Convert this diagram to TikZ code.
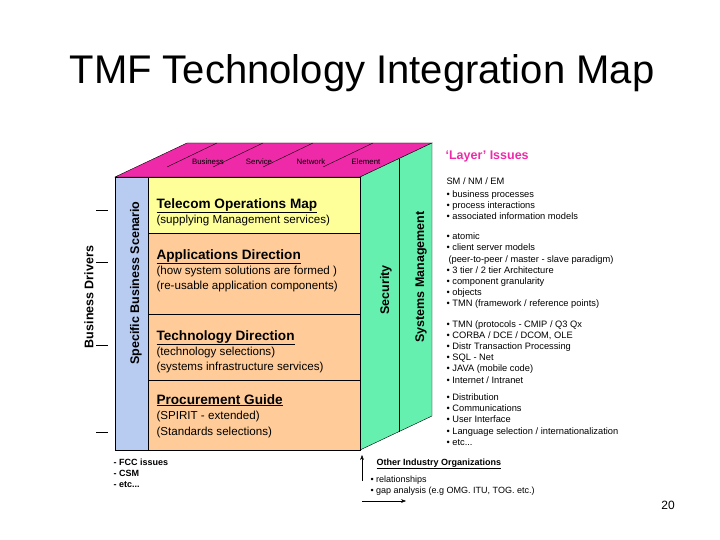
\documentclass[tikz,border=0pt]{standalone}
\usepackage{fontspec}
\setmainfont{Liberation Sans}
\usetikzlibrary{arrows.meta}
\definecolor{mag}{HTML}{EE2AA8}
\definecolor{grn}{HTML}{66F0B0}
\definecolor{blu}{HTML}{B8CCF2}
\definecolor{yel}{HTML}{FFFF99}
\definecolor{ora}{HTML}{FFCC99}
\begin{document}
\begin{tikzpicture}[x=1pt,y=-1pt,
  hd/.style={anchor=base west,font=\fontsize{13.6}{15}\selectfont\bfseries},
  bd/.style={anchor=base west,font=\fontsize{11.6}{13}\selectfont},
  rl/.style={anchor=base west,font=\fontsize{9.3}{11}\selectfont},
  tl/.style={font=\fontsize{7.8}{9}\selectfont},
  vt/.style={rotate=90,font=\fontsize{12.5}{14}\selectfont\bfseries},
  tick/.style={line width=0.6pt}]
\useasboundingbox (0,0) rectangle (720,540);
\node (title) at (362,73) {\fontsize{40}{44}\selectfont TMF Technology Integration Map};
% top face
\draw[fill=mag] (115,177) -- (187,143) -- (432,143) -- (360,177) -- cycle;
\foreach \x in {217,263,313,373} \draw (\x,143) -- (\x-50,167);
\node[tl] (tb) at (208,162) {Business};
\node[tl] (ts) at (259,162) {Service};
\node[tl] (tn) at (311,162) {Network};
\node[tl] (te) at (366,162) {Element};
% right face
\draw[fill=grn] (360,177) -- (432,143) -- (432,416) -- (360,450) -- cycle;
\draw (399,158.6) -- (399,431.6);
% front
\draw[fill=blu] (115,177) rectangle (148,450);
\draw[fill=yel] (148,177) rectangle (360,233);
\draw[fill=ora] (148,233) rectangle (360,450);
\draw (148,314) -- (360,314);
\draw (148,380) -- (360,380);
\node[vt] (sbs) at (136,283) {Specific Business Scenario};
\node[vt] (sec) at (386,290) {Security};
\node[vt] (sm) at (421,277) {Systems Management};
\node[vt] (bdr) at (89,297) {Business Drivers};
\foreach \y in {210,262,345,432} \draw[tick] (96,\y) -- (108,\y);
\node[hd] (h1) at (153,208) {\underline{Telecom Operations Map}};
\node[bd] (b1) at (153,223) {(supplying Management services)};
\node[hd] (h2) at (153,259) {\underline{Applications Direction}};
\node[bd] (b2) at (153,274) {(how system solutions are formed )};
\node[bd] (b3) at (153,289) {(re-usable application components)};
\node[hd] (h3) at (153,340) {\underline{Technology Direction}};
\node[bd] (b4) at (153,355) {(technology selections)};
\node[bd] (b5) at (153,370) {(systems infrastructure services)};
\node[hd] (h4) at (153,404) {\underline{Procurement Guide}};
\node[bd] (b6) at (153,419) {(SPIRIT - extended)};
\node[bd] (b7) at (153,435) {(Standards selections)};
% right list
\node[anchor=base west,text=mag,font=\fontsize{12.5}{14}\selectfont\bfseries] (li) at (442,160) {‘Layer’ Issues};
\foreach \y/\t in {185/{SM / NM / EM}, 197/{• business processes}, 208/{• process interactions}, 219/{• associated information models},
 240/{• atomic}, 251/{• client server models}, 262/{\hspace{2pt}(peer-to-peer / master - slave paradigm)}, 273/{• 3 tier / 2 tier Architecture}, 284/{• component granularity}, 295/{• objects}, 306/{• TMN (framework / reference points)},
 327/{• TMN (protocols - CMIP / Q3 Qx}, 338/{• CORBA / DCE / DCOM, OLE}, 349/{• Distr Transaction Processing}, 360/{• SQL - Net}, 371/{• JAVA (mobile code)}, 383/{• Internet / Intranet},
 400/{• Distribution}, 411/{• Communications}, 422/{• User Interface}, 434/{• Language selection / internationalization}, 445/{• etc...}}
  \node[rl] at (443,\y) {\t};
% bottom
\node[anchor=base west,font=\fontsize{9}{10}\selectfont\bfseries] (fcc) at (110,465) {- FCC issues};
\node[anchor=base west,font=\fontsize{9}{10}\selectfont\bfseries] (csm) at (110,476) {- CSM};
\node[anchor=base west,font=\fontsize{9}{10}\selectfont\bfseries] (etc) at (110,487) {- etc...};
\coordinate (a0) at (362,481);
\coordinate (a1) at (362,455);
\coordinate (a2) at (406,501);
\coordinate (a3) at (362,501);
\draw[-{Stealth[length=5pt]}] (a0) -- (a1);
\draw[-{Stealth[length=5pt]}] (a3) -- (a2);
\node[anchor=base west,font=\fontsize{9}{10}\selectfont\bfseries] (oio) at (373,465) {\underline{Other Industry Organizations}};
\node[anchor=base west,font=\fontsize{9}{10}\selectfont] (rel) at (367,482) {• relationships};
\node[anchor=base west,font=\fontsize{9}{10}\selectfont] (gap) at (367,493) {• gap analysis (e.g OMG. ITU, TOG. etc.)};
\node[font=\fontsize{12}{14}\selectfont] (pg) at (668,505) {20};
\end{tikzpicture}
\end{document}
